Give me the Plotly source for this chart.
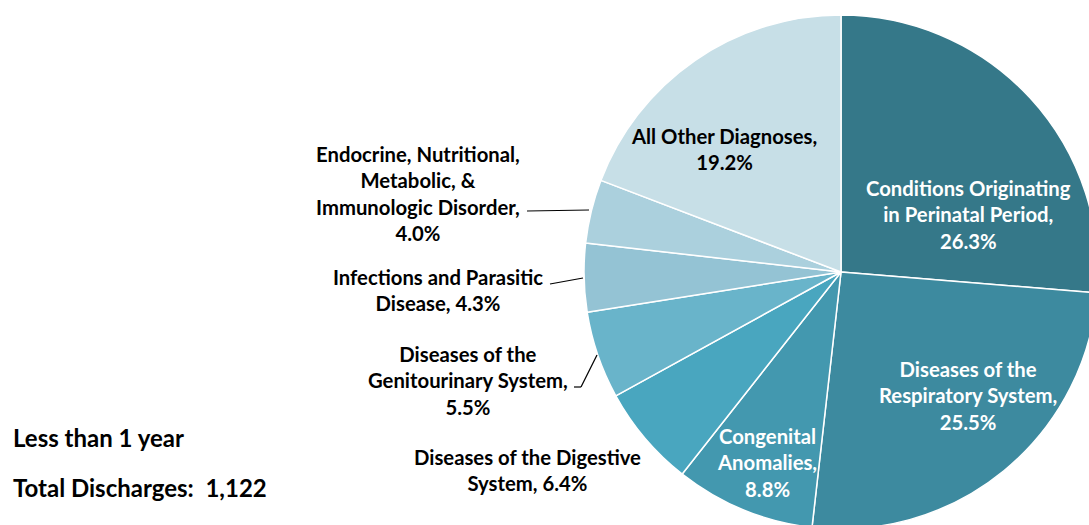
import plotly.graph_objects as go

# ---------------- data ----------------
categories = [
    "Conditions Originating in Perinatal Period",
    "Diseases of the Respiratory System",
    "Congenital Anomalies",
    "Diseases of the Digestive System",
    "Diseases of the Genitourinary System",
    "Infections and Parasitic Disease",
    "Endocrine, Nutritional, Metabolic, & Immunologic Disorder",
    "All Other Diagnoses",
]
percentages = [26.3, 25.5, 8.8, 6.4, 5.5, 4.3, 4.0, 19.2]
label_lines = [
    "Conditions Originating<br>in Perinatal Period,<br>",
    "Diseases of the<br>Respiratory System,<br>",
    "Congenital<br>Anomalies,<br>",
    "Diseases of the Digestive<br>System, ",
    "Diseases of the<br>Genitourinary System,<br>",
    "Infections and Parasitic<br>Disease, ",
    "Endocrine, Nutritional,<br>Metabolic, &<br>Immunologic Disorder,<br>",
    "All Other Diagnoses,<br>",
]
age_group = "Less than 1 year"
total_discharges = "1,122"

# ---------------- style ----------------
colors = ["#357889", "#3d8a9f", "#4398af", "#49a6bf", "#69b4ca",
          "#94c3d4", "#abd0dd", "#c7dfe7"]
text_colors = ["white", "white", "white", "black", "black", "black", "black", "black"]
# label centres in pixels (x, y from top-left)
label_pos = [(968, 214), (968, 395), (767, 462), (527, 470), (468, 380),
             (438, 290), (418, 193), (724, 149)]
FONT = "Lato, sans-serif"

W, H = 1100, 540
cx, cy, r = 841, 272, 257


def px(x):
    return x / W


def py(y):
    return 1 - y / H


fig = go.Figure(
    go.Pie(
        labels=categories,
        values=percentages,
        sort=False,
        direction="clockwise",
        rotation=0,
        marker=dict(colors=colors, line=dict(color="white", width=1.5)),
        textinfo="none",
        hoverinfo="label+percent",
        showlegend=False,
        domain=dict(x=[px(cx - r), px(cx + r)], y=[py(cy + r), py(cy - r)]),
    )
)

annotations = []
for txt, pct, (x, y), col in zip(label_lines, percentages, label_pos, text_colors):
    annotations.append(dict(
        x=px(x), y=py(y), xref="paper", yref="paper",
        text=f"<b>{txt}{pct:.1f}%</b>", showarrow=False,
        xanchor="center", yanchor="middle", align="center",
        font=dict(family=FONT, size=20.3, color=col),
    ))

annotations.append(dict(
    x=px(11), y=py(437), xref="paper", yref="paper", text=f"<b>{age_group}</b>",
    showarrow=False, xanchor="left", yanchor="middle", align="left",
    font=dict(family=FONT, size=24, color="black")))
annotations.append(dict(
    x=px(11), y=py(487), xref="paper", yref="paper",
    text=f"<b>Total Discharges:&nbsp;&nbsp;{total_discharges}</b>",
    showarrow=False, xanchor="left", yanchor="middle", align="left",
    font=dict(family=FONT, size=24, color="black")))

leaders = [
    [(527, 211), (589, 210)],
    [(550, 284), (583, 278)],
    [(574, 387), (581, 387), (597, 355)],
]
shapes = []
for pts in leaders:
    for (x0, y0), (x1, y1) in zip(pts[:-1], pts[1:]):
        shapes.append(dict(type="line", xref="paper", yref="paper",
                           x0=px(x0), y0=py(y0), x1=px(x1), y1=py(y1),
                           line=dict(color="black", width=1.2)))

fig.update_layout(
    width=W, height=H,
    margin=dict(l=0, r=0, t=0, b=0),
    paper_bgcolor="white", plot_bgcolor="white",
    annotations=annotations, shapes=shapes,
)

fig.write_html(
    "out.html",
    config={"displayModeBar": False},
    post_script="document.body.style.margin='0';document.body.style.overflow='hidden';",
)
